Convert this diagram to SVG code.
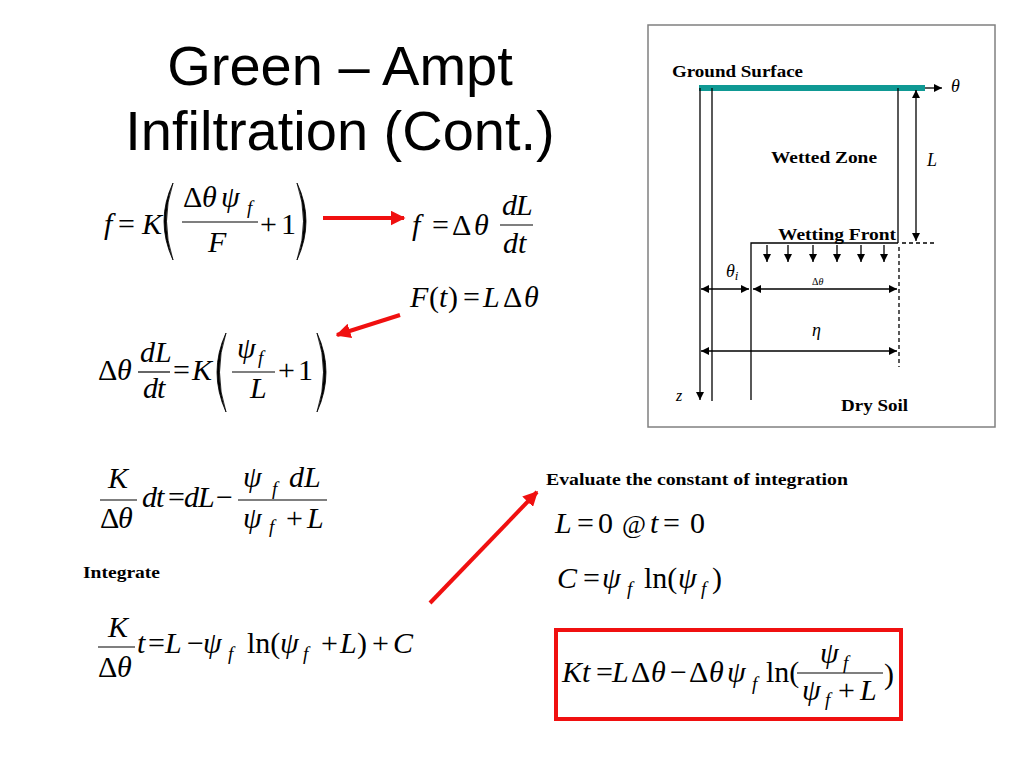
<svg xmlns="http://www.w3.org/2000/svg" width="1024" height="768" viewBox="0 0 1024 768">
<defs>
<style>
.title{font-family:"Liberation Sans",Arial,sans-serif;font-size:56px;fill:#000}
.m{font-family:"Liberation Serif","Times New Roman",serif;font-size:30px;fill:#000}
.it{font-style:italic}
.sub{font-size:19px;font-style:italic}
.lab{font-family:"Liberation Serif","Times New Roman",serif;font-weight:bold;font-size:17px;fill:#000}
.dl{font-family:"Liberation Serif","Times New Roman",serif;font-style:italic;font-size:18px;fill:#000}
.bar{stroke:#000;stroke-width:1.2}
.ln{stroke:#000;stroke-width:1.3;fill:none}
.dash{stroke:#000;stroke-width:1.3;stroke-dasharray:4,3;fill:none}
.red{stroke:#f01010;stroke-width:4;fill:none}
.paren{fill:#000;stroke:#000;stroke-width:0.8}
</style>
<marker id="ah" viewBox="0 0 10 10" refX="10" refY="5" markerWidth="8" markerHeight="8" markerUnits="userSpaceOnUse" orient="auto-start-reverse">
<path d="M0,0 L10,5 L0,10 Z" fill="#000"/>
</marker>
<marker id="rh" viewBox="0 0 10 10" refX="9" refY="5" markerWidth="15" markerHeight="15" markerUnits="userSpaceOnUse" orient="auto">
<path d="M0,0 L10,5 L0,10 Z" fill="#f01010"/>
</marker>
</defs>
<rect width="1024" height="768" fill="#fff"/>

<g id="title">
<text class="title" x="340" y="85" text-anchor="middle">Green – Ampt</text>
<text class="title" x="340" y="150" text-anchor="middle">Infiltration (Cont.)</text>
</g>

<g id="eq1">
<text class="m"><tspan class="it" x="104" y="234">f</tspan><tspan x="118" y="234">=</tspan><tspan class="it" x="142" y="234">K</tspan></text>
<path class="paren" d="M173,183 Q155,221 173,260 Q160,221 173,183 Z"/>
<text class="m"><tspan x="183" y="207">Δ</tspan><tspan class="it" x="202" y="207">θ</tspan><tspan class="it" x="221" y="207">ψ</tspan><tspan class="sub" x="247" y="214">f</tspan></text>
<line class="bar" x1="182" y1="222" x2="258" y2="222"/>
<text class="m it" x="208" y="252">F</text>
<text class="m"><tspan x="260" y="234">+</tspan><tspan x="281" y="234">1</tspan></text>
<path class="paren" d="M297,183 Q315,221 297,260 Q310,221 297,183 Z"/>
</g>

<g id="eq2">
<text class="m"><tspan class="it" x="412" y="235">f</tspan><tspan x="432" y="235">=</tspan><tspan x="452" y="235">Δ</tspan><tspan class="it" x="474" y="235">θ</tspan></text>
<text class="m it"><tspan x="502" y="215">d</tspan><tspan x="516" y="215">L</tspan></text>
<line class="bar" x1="500" y1="225" x2="533" y2="225"/>
<text class="m it"><tspan x="503" y="253">d</tspan><tspan x="518" y="253">t</tspan></text>
</g>

<g id="eq3">
<text class="m"><tspan class="it" x="410" y="307">F</tspan><tspan x="429" y="307">(</tspan><tspan class="it" x="439" y="307">t</tspan><tspan x="448" y="307">)</tspan><tspan x="463" y="307">=</tspan><tspan class="it" x="483" y="307">L</tspan><tspan x="503" y="307">Δ</tspan><tspan class="it" x="524" y="307">θ</tspan></text>
</g>

<g id="eq4">
<text class="m"><tspan x="98" y="380">Δ</tspan><tspan class="it" x="117" y="380">θ</tspan></text>
<text class="m it"><tspan x="140" y="362">d</tspan><tspan x="155" y="362">L</tspan></text>
<line class="bar" x1="138" y1="372" x2="170" y2="372"/>
<text class="m it"><tspan x="143" y="398">d</tspan><tspan x="157" y="398">t</tspan></text>
<text class="m"><tspan x="173" y="380">=</tspan><tspan class="it" x="192" y="380">K</tspan></text>
<path class="paren" d="M226,333 Q208,372 226,412 Q213,372 226,333 Z"/>
<text class="m"><tspan class="it" x="237" y="358">ψ</tspan><tspan class="sub" x="258" y="364">f</tspan></text>
<line class="bar" x1="232" y1="372" x2="275" y2="372"/>
<text class="m it" x="250" y="398">L</text>
<text class="m"><tspan x="278" y="380">+</tspan><tspan x="298" y="380">1</tspan></text>
<path class="paren" d="M317,333 Q335,372 317,412 Q330,372 317,333 Z"/>
</g>

<g id="eq5">
<text class="m it" x="108" y="488">K</text>
<line class="bar" x1="100" y1="500" x2="137" y2="500"/>
<text class="m"><tspan x="100" y="528">Δ</tspan><tspan class="it" x="118" y="528">θ</tspan></text>
<text class="m"><tspan class="it" x="142" y="507">d</tspan><tspan class="it" x="156" y="507">t</tspan><tspan x="168" y="507">=</tspan><tspan class="it" x="184" y="507">d</tspan><tspan class="it" x="198" y="507">L</tspan><tspan x="216" y="507">−</tspan></text>
<text class="m"><tspan class="it" x="243" y="487">ψ</tspan><tspan class="sub" x="272" y="495">f</tspan><tspan class="it" x="289" y="487">d</tspan><tspan class="it" x="304" y="487">L</tspan></text>
<line class="bar" x1="238" y1="500" x2="327" y2="500"/>
<text class="m"><tspan class="it" x="243" y="528">ψ</tspan><tspan class="sub" x="269" y="533">f</tspan><tspan x="286" y="528">+</tspan><tspan class="it" x="307" y="528">L</tspan></text>
</g>

<g id="integrate">
<text class="lab" x="83" y="578" textLength="77" lengthAdjust="spacingAndGlyphs">Integrate</text>
</g>

<g id="eq6">
<text class="m it" x="108" y="637">K</text>
<line class="bar" x1="98" y1="647" x2="135" y2="647"/>
<text class="m"><tspan x="98" y="677">Δ</tspan><tspan class="it" x="117" y="677">θ</tspan></text>
<text class="m"><tspan class="it" x="137" y="653">t</tspan><tspan x="148" y="653">=</tspan><tspan class="it" x="165" y="653">L</tspan><tspan x="187" y="653">−</tspan><tspan class="it" x="203" y="653">ψ</tspan><tspan class="sub" x="228" y="660">f</tspan><tspan x="247" y="653">ln(</tspan><tspan class="it" x="280" y="653">ψ</tspan><tspan class="sub" x="303" y="660">f</tspan><tspan x="321" y="653">+</tspan><tspan class="it" x="340" y="653">L</tspan><tspan x="357" y="653">)</tspan><tspan x="372" y="653">+</tspan><tspan class="it" x="393" y="653">C</tspan></text>
</g>

<g id="evaluate">
<text class="lab" x="546" y="485" textLength="302" lengthAdjust="spacingAndGlyphs">Evaluate the constant of integration</text>
</g>

<g id="eq7">
<text class="m"><tspan class="it" x="555" y="533">L</tspan><tspan x="577" y="533">=</tspan><tspan x="598" y="533">0</tspan><tspan x="622" y="533" style="font-size:26px">@</tspan><tspan class="it" x="650" y="533">t</tspan><tspan x="663" y="533">=</tspan><tspan x="690" y="533">0</tspan></text>
</g>

<g id="eq8">
<text class="m"><tspan class="it" x="557" y="588">C</tspan><tspan x="583" y="588">=</tspan><tspan class="it" x="602" y="588">ψ</tspan><tspan class="sub" x="627" y="595">f</tspan><tspan x="644" y="588">ln(</tspan><tspan class="it" x="678" y="588">ψ</tspan><tspan class="sub" x="701" y="595">f</tspan><tspan x="712" y="588">)</tspan></text>
</g>

<g id="result">
<rect x="556" y="630" width="345" height="89" fill="none" stroke="#f01010" stroke-width="4"/>
<text class="m"><tspan class="it" x="562" y="682">K</tspan><tspan class="it" x="582" y="682">t</tspan><tspan x="596" y="682">=</tspan><tspan class="it" x="612" y="682">L</tspan><tspan x="631" y="682">Δ</tspan><tspan class="it" x="651" y="682">θ</tspan><tspan x="670" y="682">−</tspan><tspan x="689" y="682">Δ</tspan><tspan class="it" x="709" y="682">θ</tspan><tspan class="it" x="727" y="682">ψ</tspan><tspan class="sub" x="752" y="690">f</tspan><tspan x="766" y="682">ln(</tspan></text>
<text class="m"><tspan class="it" x="820" y="663">ψ</tspan><tspan class="sub" x="843" y="669">f</tspan></text>
<line class="bar" x1="797" y1="673" x2="883" y2="673"/>
<text class="m"><tspan class="it" x="802" y="700">ψ</tspan><tspan class="sub" x="825" y="706">f</tspan><tspan x="838" y="700">+</tspan><tspan class="it" x="860" y="700">L</tspan></text>
<text class="m" x="884" y="684">)</text>
</g>

<g id="connectors">
<line class="red" x1="323" y1="218" x2="404" y2="218" marker-end="url(#rh)"/>
<line class="red" x1="400" y1="315" x2="337" y2="335" marker-end="url(#rh)"/>
<line class="red" x1="430" y1="603" x2="537" y2="492" marker-end="url(#rh)"/>
</g>

<g id="soil-diagram">
<rect x="648" y="25" width="347" height="402" fill="none" stroke="#808080" stroke-width="1.5"/>
<text class="lab" x="672" y="77" textLength="131" lengthAdjust="spacingAndGlyphs">Ground Surface</text>
<rect x="699" y="85" width="226" height="6" fill="#0f9994"/>
<line class="ln" x1="925" y1="88" x2="942" y2="88" marker-end="url(#ah)"/>
<text class="dl" x="951" y="92">θ</text>
<line class="ln" x1="700" y1="88" x2="700" y2="400" marker-end="url(#ah)"/>
<text class="dl" x="676" y="401" style="font-size:16px">z</text>
<line class="ln" x1="712" y1="88" x2="712" y2="401"/>
<line class="ln" x1="898" y1="88" x2="898" y2="243"/>
<polyline class="ln" points="751,400 751,243 898,243"/>
<line class="dash" x1="902" y1="243" x2="934" y2="243"/>
<line class="dash" x1="899" y1="247" x2="899" y2="367"/>
<line class="ln" x1="916" y1="90" x2="916" y2="241" marker-start="url(#ah)" marker-end="url(#ah)"/>
<text class="dl" x="927" y="166">L</text>
<text class="lab" x="771" y="163" textLength="106" lengthAdjust="spacingAndGlyphs">Wetted Zone</text>
<text class="lab" x="778" y="240" textLength="118" lengthAdjust="spacingAndGlyphs">Wetting Front</text>
<line class="ln" x1="767" y1="245" x2="767" y2="262" marker-end="url(#ah)"/>
<line class="ln" x1="788" y1="245" x2="788" y2="262" marker-end="url(#ah)"/>
<line class="ln" x1="813" y1="245" x2="813" y2="262" marker-end="url(#ah)"/>
<line class="ln" x1="837" y1="245" x2="837" y2="262" marker-end="url(#ah)"/>
<line class="ln" x1="861" y1="245" x2="861" y2="262" marker-end="url(#ah)"/>
<line class="ln" x1="884" y1="245" x2="884" y2="262" marker-end="url(#ah)"/>
<text class="dl" x="726" y="277">θ<tspan style="font-size:13px" dy="3">i</tspan></text>
<line class="ln" x1="701" y1="289" x2="749" y2="289" marker-start="url(#ah)" marker-end="url(#ah)"/>
<text class="dl" x="812" y="285" style="font-size:10px"><tspan style="font-style:normal">Δ</tspan>θ</text>
<line class="ln" x1="753" y1="289" x2="897" y2="289" marker-start="url(#ah)" marker-end="url(#ah)"/>
<text class="dl" x="812" y="336">η</text>
<line class="ln" x1="701" y1="351" x2="897" y2="351" marker-start="url(#ah)" marker-end="url(#ah)"/>
<text class="lab" x="841" y="411" textLength="67" lengthAdjust="spacingAndGlyphs">Dry Soil</text>
</g>
</svg>
